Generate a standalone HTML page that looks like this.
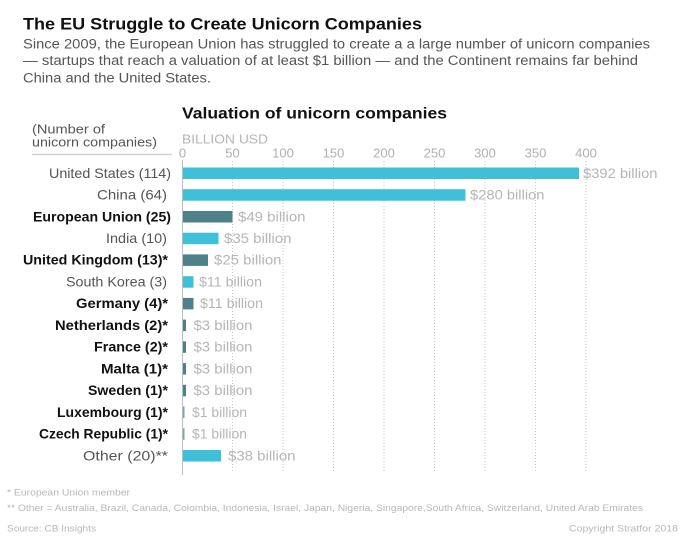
<!DOCTYPE html>
<html>
<head>
<meta charset="utf-8">
<style>
html,body{margin:0;padding:0;background:#fff;}
svg{display:block;}
text{font-family:"Liberation Sans",Arial,sans-serif;}
</style>
</head>
<body>
<svg width="687" height="539" viewBox="0 0 687 539" xmlns="http://www.w3.org/2000/svg">
<rect width="687" height="539" fill="#fff"/>

<!-- Title -->
<text x="23" y="29.5" font-size="17" font-weight="bold" fill="#111" textLength="399" lengthAdjust="spacingAndGlyphs">The EU Struggle to Create Unicorn Companies</text>
<text x="23" y="48.3" font-size="13.5" fill="#555" textLength="627" lengthAdjust="spacingAndGlyphs">Since 2009, the European Union has struggled to create a a large number of unicorn companies</text>
<text x="23" y="65.2" font-size="13.5" fill="#555" textLength="615" lengthAdjust="spacingAndGlyphs">— startups that reach a valuation of at least $1 billion — and the Continent remains far behind</text>
<text x="23" y="82.5" font-size="13.5" fill="#555" textLength="188" lengthAdjust="spacingAndGlyphs">China and the United States.</text>

<!-- Chart title -->
<text x="182" y="118.3" font-size="16" font-weight="bold" fill="#111" textLength="265" lengthAdjust="spacingAndGlyphs">Valuation of unicorn companies</text>

<!-- Left header -->
<text x="32" y="133.3" font-size="13" fill="#555" textLength="73" lengthAdjust="spacingAndGlyphs">(Number of</text>
<text x="32" y="146.7" font-size="13" fill="#555" textLength="125" lengthAdjust="spacingAndGlyphs">unicorn companies)</text>
<line x1="32" y1="154.5" x2="172" y2="154.5" stroke="#d2d2d2" stroke-width="1.5"/>

<!-- Axis label -->
<text x="182" y="143.3" font-size="12.5" fill="#b5b5b5" textLength="86" lengthAdjust="spacingAndGlyphs">BILLION USD</text>

<!-- Tick labels -->
<g font-size="13" fill="#b0b0b0" text-anchor="middle">
<text x="182.5" y="157.3">0</text>
<text x="232.5" y="157.3">50</text>
<text x="283" y="157.3">100</text>
<text x="333.5" y="157.3">150</text>
<text x="384" y="157.3">200</text>
<text x="434.5" y="157.3">250</text>
<text x="485" y="157.3">300</text>
<text x="535.5" y="157.3">350</text>
<text x="586" y="157.3">400</text>
</g>

<!-- Gridlines -->
<g stroke="#c8c8c8" stroke-width="1" stroke-dasharray="1,2">
<line x1="232.5" y1="161" x2="232.5" y2="473"/>
<line x1="283" y1="161" x2="283" y2="473"/>
<line x1="333.5" y1="161" x2="333.5" y2="473"/>
<line x1="384" y1="161" x2="384" y2="473"/>
<line x1="434.5" y1="161" x2="434.5" y2="473"/>
<line x1="485" y1="161" x2="485" y2="473"/>
<line x1="535.5" y1="161" x2="535.5" y2="473"/>
<line x1="586" y1="161" x2="586" y2="473"/>
</g>
<line x1="182.5" y1="160" x2="182.5" y2="475" stroke="#bdbdbd" stroke-width="1"/>

<!-- Bars -->
<g>
<rect x="183" y="167.5" width="396" height="11.5" fill="#3fbfd8"/>
<rect x="183" y="189.2" width="282.5" height="11.5" fill="#3fbfd8"/>
<rect x="183" y="211.0" width="49.5" height="11.5" fill="#4e8289"/>
<rect x="183" y="232.7" width="35.5" height="11.5" fill="#3fbfd8"/>
<rect x="183" y="254.4" width="25" height="11.5" fill="#4e8289"/>
<rect x="183" y="276.2" width="10.5" height="11.5" fill="#3fbfd8"/>
<rect x="183" y="297.9" width="10.5" height="11.5" fill="#4e8289"/>
<rect x="183" y="319.6" width="3" height="11.5" fill="#4e8289"/>
<rect x="183" y="341.3" width="3" height="11.5" fill="#4e8289"/>
<rect x="183" y="363.1" width="3" height="11.5" fill="#4e8289"/>
<rect x="183" y="384.8" width="3" height="11.5" fill="#4e8289"/>
<rect x="183" y="406.5" width="1.5" height="11.5" fill="#7fa3a8"/>
<rect x="183" y="428.3" width="1.5" height="11.5" fill="#7fa3a8"/>
<rect x="183" y="450.0" width="38" height="11.5" fill="#3fbfd8"/>
</g>

<!-- Value labels -->
<g font-size="13.5" fill="#b5b5b5">
<text x="583" y="177.8" textLength="74.5" lengthAdjust="spacingAndGlyphs">$392 billion</text>
<text x="470" y="199.5" textLength="74.5" lengthAdjust="spacingAndGlyphs">$280 billion</text>
<text x="238" y="221.3" textLength="67.5" lengthAdjust="spacingAndGlyphs">$49 billion</text>
<text x="224" y="243.0" textLength="67.5" lengthAdjust="spacingAndGlyphs">$35 billion</text>
<text x="214" y="264.7" textLength="67.5" lengthAdjust="spacingAndGlyphs">$25 billion</text>
<text x="199" y="286.5" textLength="63" lengthAdjust="spacingAndGlyphs">$11 billion</text>
<text x="200" y="308.2" textLength="63" lengthAdjust="spacingAndGlyphs">$11 billion</text>
<text x="193.5" y="329.9" textLength="59" lengthAdjust="spacingAndGlyphs">$3 billion</text>
<text x="193.5" y="351.6" textLength="59" lengthAdjust="spacingAndGlyphs">$3 billion</text>
<text x="193.5" y="373.4" textLength="59" lengthAdjust="spacingAndGlyphs">$3 billion</text>
<text x="193.5" y="395.1" textLength="59" lengthAdjust="spacingAndGlyphs">$3 billion</text>
<text x="192" y="416.8" textLength="55" lengthAdjust="spacingAndGlyphs">$1 billion</text>
<text x="192" y="438.6" textLength="55" lengthAdjust="spacingAndGlyphs">$1 billion</text>
<text x="228" y="460.3" textLength="67.5" lengthAdjust="spacingAndGlyphs">$38 billion</text>
</g>

<!-- Row labels -->
<g font-size="14" text-anchor="end">
<text x="171" y="177.8" fill="#555" textLength="122" lengthAdjust="spacingAndGlyphs">United States (114)</text>
<text x="167" y="199.5" fill="#555" textLength="70" lengthAdjust="spacingAndGlyphs">China (64)</text>
<text x="171" y="221.3" fill="#111" font-weight="bold" textLength="138" lengthAdjust="spacingAndGlyphs">European Union (25)</text>
<text x="167" y="243.0" fill="#555" textLength="61" lengthAdjust="spacingAndGlyphs">India (10)</text>
<text x="168" y="264.7" fill="#111" font-weight="bold" textLength="145" lengthAdjust="spacingAndGlyphs">United Kingdom (13)*</text>
<text x="167" y="286.5" fill="#555" textLength="101" lengthAdjust="spacingAndGlyphs">South Korea (3)</text>
<text x="168" y="308.2" fill="#111" font-weight="bold" textLength="92" lengthAdjust="spacingAndGlyphs">Germany (4)*</text>
<text x="168" y="329.9" fill="#111" font-weight="bold" textLength="113" lengthAdjust="spacingAndGlyphs">Netherlands (2)*</text>
<text x="168" y="351.6" fill="#111" font-weight="bold" textLength="74" lengthAdjust="spacingAndGlyphs">France (2)*</text>
<text x="168" y="373.4" fill="#111" font-weight="bold" textLength="67" lengthAdjust="spacingAndGlyphs">Malta (1)*</text>
<text x="168" y="395.1" fill="#111" font-weight="bold" textLength="80" lengthAdjust="spacingAndGlyphs">Sweden (1)*</text>
<text x="168" y="416.8" fill="#111" font-weight="bold" textLength="111" lengthAdjust="spacingAndGlyphs">Luxembourg (1)*</text>
<text x="168" y="438.6" fill="#111" font-weight="bold" textLength="129" lengthAdjust="spacingAndGlyphs">Czech Republic (1)*</text>
<text x="168" y="460.3" fill="#555" textLength="85" lengthAdjust="spacingAndGlyphs">Other (20)**</text>
</g>

<!-- Footer -->
<g font-size="9.5" fill="#b8b8b8">
<text x="7" y="495.5" textLength="123" lengthAdjust="spacingAndGlyphs">* European Union member</text>
<text x="7" y="510.8" textLength="636" lengthAdjust="spacingAndGlyphs">** Other = Australia, Brazil, Canada, Colombia, Indonesia, Israel, Japan, Nigeria, Singapore,South Africa, Switzerland, United Arab Emirates</text>
<text x="7" y="531.5" textLength="89" lengthAdjust="spacingAndGlyphs">Source: CB Insights</text>
<text x="678" y="531.5" text-anchor="end" textLength="109" lengthAdjust="spacingAndGlyphs">Copyright Stratfor 2018</text>
</g>
</svg>
</body>
</html>
